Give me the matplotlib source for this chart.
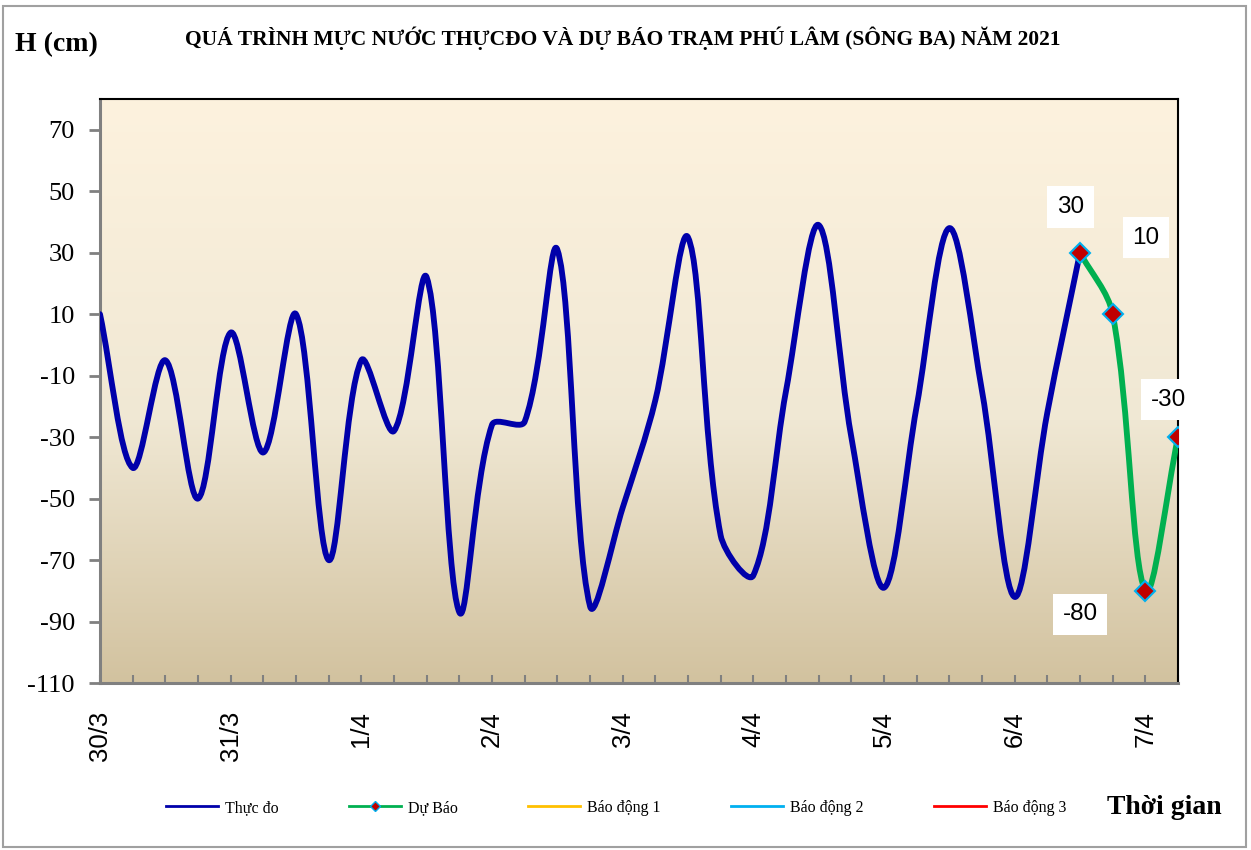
import numpy as np
import matplotlib
matplotlib.use('Agg')
import matplotlib.pyplot as plt
from matplotlib.path import Path
from matplotlib.patches import PathPatch, Rectangle
from matplotlib.lines import Line2D
from matplotlib.colors import LinearSegmentedColormap

# mực nước thực đo (cm), 6 giờ một số liệu, bắt đầu 30/3
thuc_do = [10, -40, -5, -50, 4, -35, 10, -70, -5, -28, 22, -87,
           -26, -25, 31, -85, -53, -18, 35, -62, -75, -15, 39, -30,
           -79, -20, 38, -15, -82, -22, 30]
# dự báo, nối tiếp số liệu thực đo cuối cùng
du_bao = [30, 10, -80, -30]
ngay = ['30/3', '31/3', '1/4', '2/4', '3/4', '4/4', '5/4', '6/4', '7/4']
y_ticks = [-110, -90, -70, -50, -30, -10, 10, 30, 50, 70]

x_td = np.arange(len(thuc_do))
x_db = np.arange(len(du_bao)) + len(thuc_do) - 1

plt.rcParams['font.family'] = ['Liberation Serif', 'DejaVu Serif']

fig = plt.figure(figsize=(12.51, 8.5), dpi=100)
ax = fig.add_axes([100 / 1251, 1 - 683 / 850, 1078 / 1251, 584 / 850])
ax.set_xlim(0, len(thuc_do) + len(du_bao) - 2)
ax.set_ylim(-110, 80)

# nền chuyển màu
cmap = LinearSegmentedColormap.from_list('nen', [(0, '#D2C29F'), (0.45, '#F0E8D4'), (1, '#FDF2DE')])
grad = np.linspace(0, 1, 256).reshape(-1, 1)
ax.imshow(grad, cmap=cmap, aspect='auto', extent=[0, 1, 0, 1], transform=ax.transAxes,
          origin='lower', zorder=0)


def duong_tron(ax, x, y, color, lw):
    # đường cong trơn kiểu Excel (Bezier)
    pts = ax.transData.transform(np.column_stack([x, y]))
    n = len(pts)
    verts = [pts[0]]
    codes = [Path.MOVETO]
    for i in range(n - 1):
        p0 = pts[max(i - 1, 0)]
        p1 = pts[i]
        p2 = pts[i + 1]
        p3 = pts[min(i + 2, n - 1)]
        l0 = np.hypot(*(p1 - p0))
        l1 = np.hypot(*(p2 - p1))
        l2 = np.hypot(*(p3 - p2))
        c1 = p1 + (p2 - p0) * l1 / (l0 + l1) / 3
        c2 = p2 - (p3 - p1) * l1 / (l1 + l2) / 3
        verts += [c1, c2, p2]
        codes += [Path.CURVE4] * 3
    verts = ax.transData.inverted().transform(np.array(verts))
    patch = PathPatch(Path(verts, codes), fill=False, edgecolor=color, lw=lw,
                      capstyle='round', joinstyle='round', zorder=3)
    ax.add_patch(patch)


duong_tron(ax, x_td, thuc_do, '#0000AA', 4.2)
duong_tron(ax, x_db, du_bao, '#00B050', 4.2)
ax.plot(x_db, du_bao, ls='none', marker='D', ms=10, mfc='#C00000', mec='#00B0F0',
        mew=1.5, zorder=5)

# nhãn số liệu dự báo
offsets = [(-7, 33), (24, 55), (-47, -17), (-7, 27)]
for xi, yi, off in zip(x_db, du_bao, offsets):
    ax.annotate(str(yi), (xi, yi), xytext=off, textcoords='offset points',
                ha='center', va='center', fontsize=17.5, family='Liberation Sans',
                bbox=dict(boxstyle='square,pad=0.4', fc='white', ec='none'),
                zorder=6, annotation_clip=False)

# trục
ax.set_yticks(y_ticks)
ax.set_yticklabels([str(v) for v in y_ticks], fontsize=19)
ax.tick_params(axis='y', direction='out', length=8, width=2, color='#808080', pad=10)
ax.set_xticks(np.arange(len(ngay)) * 4)
ax.set_xticklabels(ngay, rotation=90, fontsize=18.5, family='Liberation Sans', va='top')
ax.set_xticks(np.arange(len(thuc_do) + len(du_bao) - 1), minor=True)
ax.tick_params(axis='x', which='both', direction='in', length=6, width=1.5,
               color='#808080', pad=20)
for s in ['left', 'bottom']:
    ax.spines[s].set_color('#808080')
    ax.spines[s].set_linewidth(2.2)
for s in ['top', 'right']:
    ax.spines[s].set_color('black')
    ax.spines[s].set_linewidth(1.5)

fig.text(623 / 1251, 1 - 38 / 850,
         'QUÁ TRÌNH MỰC NƯỚC THỰCĐO VÀ DỰ BÁO TRẠM PHÚ LÂM (SÔNG BA) NĂM 2021',
         ha='center', va='center', fontsize=15.5, fontweight='bold')
fig.text(15 / 1251, 1 - 45 / 850, 'H (cm)', ha='left', va='center', fontsize=20,
         fontweight='bold')
fig.text(1222 / 1251, 1 - 807 / 850, 'Thời gian', ha='right', va='center', fontsize=20,
         fontweight='bold')

handles = [
    Line2D([], [], color='#0000AA', lw=2),
    Line2D([], [], color='#00B050', lw=2, marker='D', ms=5, mfc='#C00000', mec='#00B0F0'),
    Line2D([], [], color='#FFC000', lw=2),
    Line2D([], [], color='#00B0F0', lw=2),
    Line2D([], [], color='#FF0000', lw=2),
]
labels = ['Thực đo', 'Dự Báo', 'Báo động 1', 'Báo động 2', 'Báo động 3']
fig.legend(handles, labels, loc='center', bbox_to_anchor=(616 / 1251, 1 - 808 / 850),
           ncol=5, frameon=False, fontsize=11.5, handlelength=3.25, handletextpad=0.45,
           columnspacing=4.4)

fig.add_artist(Rectangle((0.002, 0.003), 0.994, 0.99, transform=fig.transFigure,
                         fill=False, ec='#A0A0A0', lw=1.5))

fig.savefig('out.png', dpi=100)
